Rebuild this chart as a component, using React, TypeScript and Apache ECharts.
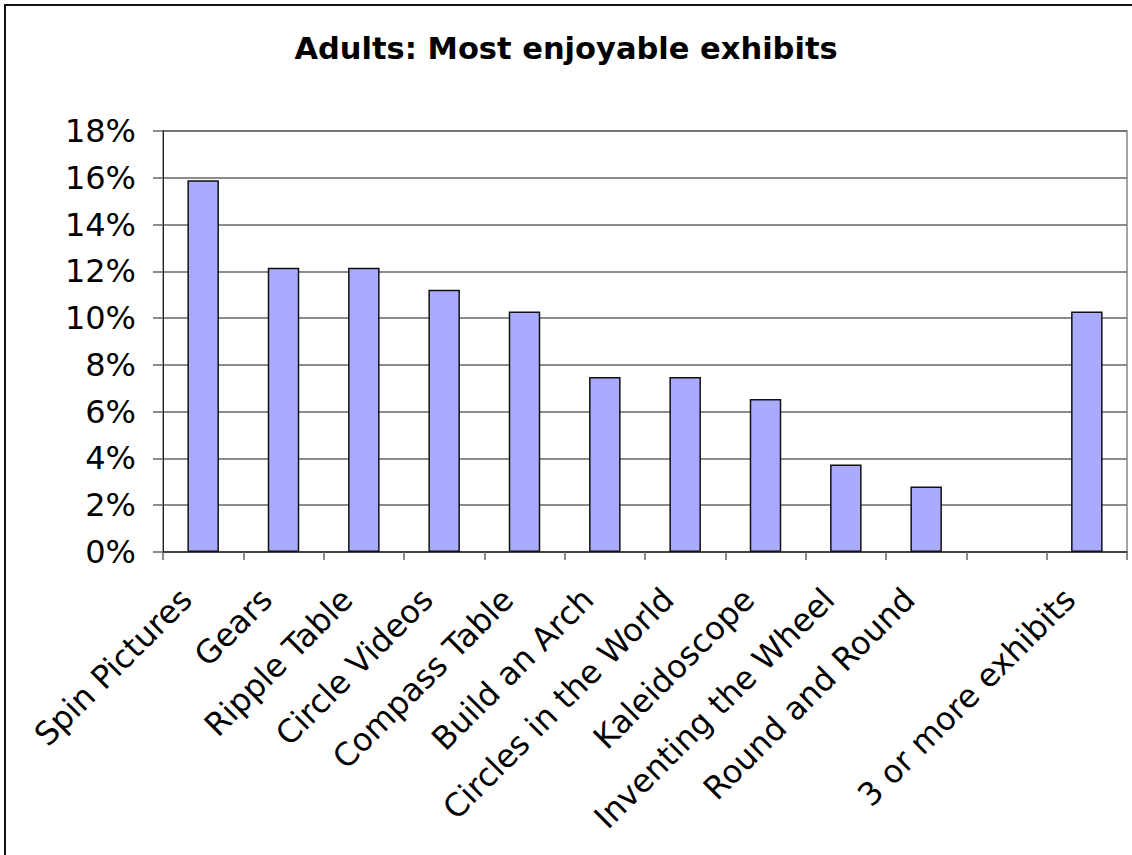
import React, { useEffect, useRef } from "react";
import * as echarts from "echarts";

// Exhibit names along the x axis (one empty slot before the last group)
const exhibits: string[] = [
  "Spin Pictures",
  "Gears",
  "Ripple Table",
  "Circle Videos",
  "Compass Table",
  "Build an Arch",
  "Circles in the World",
  "Kaleidoscope",
  "Inventing the Wheel",
  "Round and Round",
  "",
  "3 or more exhibits",
];

// Share of adults naming each exhibit as most enjoyable (%)
const shares: (number | null)[] = [
  15.89, 12.15, 12.15, 11.21, 10.28, 7.48, 7.48, 6.54, 3.74, 2.8, null, 10.28,
];

const yTicks = { min: 0, max: 18, step: 2 };

const FONT = "'DejaVu Sans', Verdana, sans-serif";

export default function App() {
  const ref = useRef<HTMLDivElement>(null);

  useEffect(() => {
    if (!ref.current) return;
    const chart = echarts.init(ref.current, undefined, { renderer: "svg" });
    chart.setOption({
      animation: false,
      backgroundColor: "#ffffff",
      title: {
        text: "Adults: Most enjoyable exhibits",
        left: "center",
        top: 28,
        textStyle: {
          fontFamily: FONT,
          fontSize: 30.5,
          fontWeight: "bold",
          color: "#000",
        },
      },
      graphic: [
        {
          type: "rect",
          shape: { x: 5, y: 5, width: 1200, height: 1000 },
          style: { fill: "none", stroke: "#111", lineWidth: 2 },
          silent: true,
        },
      ],
      grid: {
        left: 163,
        right: 5,
        top: 131,
        bottom: 303,
        show: true,
        borderColor: "#888",
        borderWidth: 1.5,
        backgroundColor: "transparent",
      },
      xAxis: {
        type: "category",
        data: exhibits,
        boundaryGap: true,
        axisLine: { show: true, lineStyle: { color: "#333", width: 1.5 } },
        axisTick: {
          show: true,
          alignWithLabel: false,
          interval: 0,
          length: 8,
          lineStyle: { color: "#666", width: 1.5 },
        },
        axisLabel: {
          interval: 0,
          rotate: 45,
          margin: 25,
          padding: [0, 24, 0, 0],
          fontFamily: FONT,
          fontSize: 32,
          color: "#000",
        },
        splitLine: { show: false },
      },
      yAxis: {
        type: "value",
        min: yTicks.min,
        max: yTicks.max,
        interval: yTicks.step,
        axisLine: { show: true, lineStyle: { color: "#222", width: 1 } },
        axisTick: { show: true, length: 10, lineStyle: { color: "#666", width: 1.5 } },
        axisLabel: {
          formatter: "{value}%",
          margin: 27,
          fontFamily: FONT,
          fontSize: 32,
          color: "#000",
        },
        splitLine: { show: true, lineStyle: { color: "#666", width: 1.5 } },
      },
      series: [
        {
          type: "bar",
          data: shares,
          barWidth: 31.5,
          itemStyle: {
            color: "#aaaaff",
            borderColor: "#111",
            borderWidth: 1.5,
          },
        },
      ],
    });
    return () => chart.dispose();
  }, []);

  return (
    <div
      ref={ref}
      style={{ position: "fixed", left: 0, top: 0, width: 1132, height: 855 }}
    />
  );
}
